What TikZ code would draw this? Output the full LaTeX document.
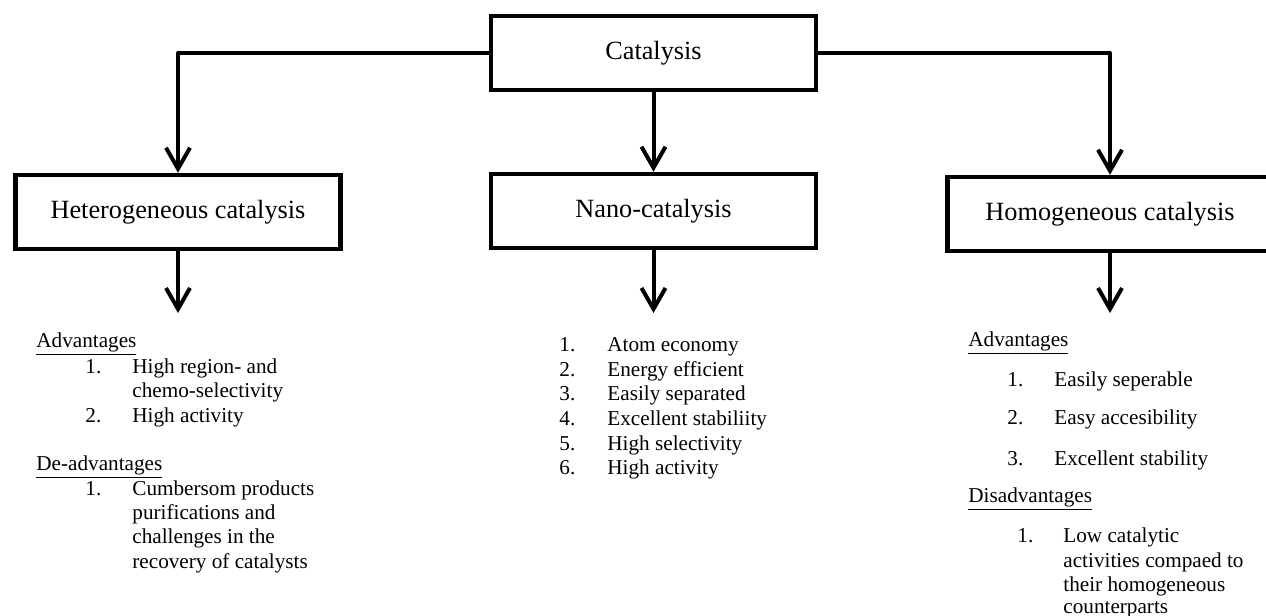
\documentclass[tikz,border=0pt]{standalone}
\usepackage{fontspec}
\setmainfont{Liberation Serif}
\usetikzlibrary{arrows.meta}
\begin{document}
\begin{tikzpicture}[x=0.5pt,y=-0.5pt,
  box/.style={draw, line width=2.2pt, minimum width=162.5pt, minimum height=37pt, inner sep=0pt, font=\fontsize{13.15}{15}\selectfont},
  conn/.style={line width=2pt, -{Straight Barb[length=10.5pt,width=12pt,line width=2pt]}, line join=round},
  txt/.style={anchor=base west, inner sep=0pt, font=\fontsize{10.6}{12}\selectfont}]
\clip (0,0) rectangle (1266,616);
% boxes
\node[box] (cat) at (653.5,53) {Catalysis};
\node[box] (het) at (178,212) {Heterogeneous catalysis};
\node[box] (nano) at (653.5,211) {Nano-catalysis};
\node[box] (hom) at (1110,214) {Homogeneous catalysis};
% connectors
\draw[conn] (cat.west) -| (het.north);
\draw[conn] (cat.east) -| (hom.north);
\draw[conn] (cat.south) -- (nano.north);
\coordinate (hetend) at (178,313);
\coordinate (nanoend) at (653.5,313);
\coordinate (homend) at (1110,313);
\draw[conn] (het.south) -- (hetend);
\draw[conn] (nano.south) -- (nanoend);
\draw[conn] (hom.south) -- (homend);
% left column
\node[txt] (la) at (36,347) {\underline{Advantages}};
\node[txt] (la1n) at (85,373) {1.};
\node[txt] (la1a) at (132,373) {High region- and};
\node[txt] (la1b) at (132,397) {chemo-selectivity};
\node[txt] (la2n) at (85,422) {2.};
\node[txt] (la2a) at (132,422) {High activity};
\node[txt] (ld) at (36,470) {\underline{De-advantages}};
\node[txt] (ld1n) at (85,495) {1.};
\node[txt] (ld1a) at (132,495) {Cumbersom products};
\node[txt] (ld1b) at (132,519) {purifications and};
\node[txt] (ld1c) at (132,543) {challenges in the};
\node[txt] (ld1d) at (132,568) {recovery of catalysts};
% middle column
\node[txt] (m1n) at (559,351) {1.};
\node[txt] (m1) at (607,351) {Atom economy};
\node[txt] (m2n) at (559,376) {2.};
\node[txt] (m2) at (607,376) {Energy efficient};
\node[txt] (m3n) at (559,400) {3.};
\node[txt] (m3) at (607,400) {Easily separated};
\node[txt] (m4n) at (559,425) {4.};
\node[txt] (m4) at (607,425) {Excellent stabiliity};
\node[txt] (m5n) at (559,450) {5.};
\node[txt] (m5) at (607,450) {High selectivity};
\node[txt] (m6n) at (559,474) {6.};
\node[txt] (m6) at (607,474) {High activity};
% right column
\node[txt] (ra) at (968,346) {\underline{Advantages}};
\node[txt] (ra1n) at (1007,386) {1.};
\node[txt] (ra1) at (1054,386) {Easily seperable};
\node[txt] (ra2n) at (1007,424) {2.};
\node[txt] (ra2) at (1054,424) {Easy accesibility};
\node[txt] (ra3n) at (1007,465) {3.};
\node[txt] (ra3) at (1054,465) {Excellent stability};
\node[txt] (rd) at (968,502) {\underline{Disadvantages}};
\node[txt] (rd1n) at (1017,542) {1.};
\node[txt] (rd1a) at (1063,542) {Low catalytic};
\node[txt] (rd1b) at (1063,567) {activities compaed to};
\node[txt] (rd1c) at (1063,591) {their homogeneous};
\node[txt] (rd1d) at (1063,613) {counterparts};
\end{tikzpicture}
\end{document}
